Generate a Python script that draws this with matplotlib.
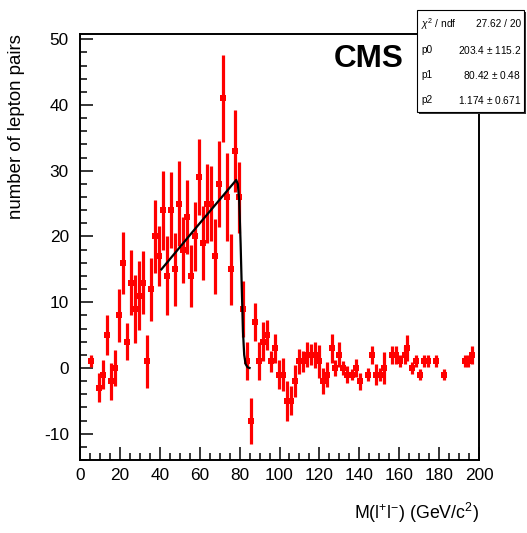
import matplotlib

matplotlib.use("Agg")
import matplotlib.pyplot as plt
from matplotlib.patches import Rectangle
from matplotlib.ticker import MultipleLocator

plt.rcParams["font.family"] = ["Liberation Sans", "DejaVu Sans"]
plt.rcParams["mathtext.fontset"] = "custom"
plt.rcParams["mathtext.rm"] = "Liberation Sans"
plt.rcParams["mathtext.it"] = "Liberation Sans:italic"
plt.rcParams["axes.unicode_minus"] = False

# dilepton invariant mass spectrum (background subtracted)
mass = [5.5, 9.5, 11.5, 13.5, 15.5, 17.5, 19.5, 21.5, 23.5, 25.5, 27.5, 29.5,
        31.5, 33.5, 35.5, 37.5, 39.5, 41.5, 43.5, 45.5, 47.5, 49.5, 51.5, 53.5,
        55.5, 57.5, 59.5, 61.5, 63.5, 65.5, 67.5, 69.5, 71.5, 73.5, 75.5, 77.5,
        79.5, 81.5, 83.5, 85.5, 87.8, 89.8, 91.7, 93.7, 95.8, 97.8, 99.9, 101.9,
        104.0, 106.0, 107.9, 110.0, 112.0, 114.0, 116.0, 118.0, 120.0, 122.0,
        123.8, 126.1, 128.0, 130.0, 132.0, 134.0, 136.1, 138.1, 140.2, 144.2,
        146.2, 148.3, 150.3, 152.3, 156.4, 158.4, 160.3, 162.7, 164.0, 166.3,
        168.2, 170.3, 172.5, 174.4, 178.5, 182.6, 192.9, 194.7, 196.7]
pairs = [1, -3, -1, 5, -2, 0, 8, 16, 4, 13, 9, 11,
         13, 1, 12, 20, 17, 24, 14, 24, 15, 25, 18, 23,
         14, 20, 29, 19, 25, 25, 17, 28, 41, 26, 15, 33,
         26, 9, 1, -8, 7, 1, 4, 5, 1, 3, -1, -1,
         -5, -5, -2, 1, 1, 2, 2, 2, 1, -2,
         -1, 3, 0, 2, 0, -1, -1, 0, -2, -1,
         2, -1, -1, 0, 2, 2, 1, 2, 3, 0,
         1, -1, 1, 1, 1, -1, 1, 1, 2]
err = [0.9, 2.2, 2.2, 3.0, 2.8, 2.7, 4.0, 4.7, 2.8, 5.0, 5.2, 5.3,
       4.8, 4.0, 4.8, 5.5, 4.6, 6.0, 6.0, 5.8, 5.5, 6.5, 5.0, 5.6,
       4.7, 5.2, 5.8, 5.6, 6.0, 5.7, 5.7, 6.5, 6.6, 6.7, 5.4, 6.3,
       5.4, 4.3, 2.9, 3.5, 2.9, 2.9, 3.0, 2.3, 1.6, 2.2, 2.2, 2.5,
       3.0, 2.2, 2.4, 1.9, 1.6, 1.9, 1.6, 2.0, 2.5, 2.0,
       1.9, 2.2, 1.2, 1.9, 1.1, 1.3, 0.9, 1.4, 1.3, 1.0,
       1.4, 1.6, 1.0, 2.4, 1.4, 1.4, 0.9, 1.4, 2.0, 0.9,
       0.9, 0.9, 0.9, 0.9, 0.9, 0.9, 0.9, 0.9, 1.4]

# fitted edge function
fit_x = [40.8, 60.0, 77.5, 78.3, 79.1, 79.8, 80.5, 81.1, 81.7, 82.3, 83.0, 84.0, 85.0]
fit_y = [15.0, 22.0, 28.3, 28.6, 28.0, 25.5, 19.0, 12.0, 5.5, 2.0, 0.6, 0.1, 0.0]

stat_labels = [r"$\chi^{2}$ / ndf", "p0", "p1", "p2"]
stat_values = ["27.62 / 20", "203.4 $\\pm$ 115.2", "80.42 $\\pm$ 0.48", "1.174 $\\pm$ 0.671"]

W, H = 527, 533
fig = plt.figure(figsize=(W / 100, H / 100), dpi=100)
ax = fig.add_axes([80 / W, 1 - 460 / H, 399 / W, 426 / H])

ax.errorbar(mass, pairs, yerr=err, fmt="s", color="#ff0000", ms=5,
            elinewidth=2.3, capsize=0, mew=0, zorder=2)
ax.plot(fit_x, fit_y, color="black", lw=1.6, zorder=3)

ax.set_xlim(0, 200)
ax.set_ylim(-14, 50.8)
ax.xaxis.set_major_locator(MultipleLocator(20))
ax.xaxis.set_minor_locator(MultipleLocator(5))
ax.yaxis.set_major_locator(MultipleLocator(10))
ax.yaxis.set_minor_locator(MultipleLocator(2))
ax.tick_params(which="both", direction="in", top=False, right=False,
               labelsize=12.4, width=1.1)
ax.tick_params(which="major", length=9.4)
ax.tick_params(which="minor", length=5)
ax.tick_params(axis="x", pad=6)
ax.tick_params(axis="y", pad=8)
for sp in ax.spines.values():
    sp.set_linewidth(1.4)

ax.set_ylabel("number of lepton pairs", fontsize=13.4, loc="top")
ax.yaxis.set_label_coords(-0.137, 1.0)
ax.set_xlabel(r"M(l$^{+}$l$^{-}$) (GeV/c$^{2}$)", fontsize=12.8, loc="right",
              labelpad=13)

ax.text(369 / W, 1 - 59 / H, "CMS", transform=fig.transFigure, ha="center",
        va="center", fontsize=22.7, fontweight="bold")

# ROOT-like stats box with shadow
bx0, bx1, by0, by1 = 417, 524, 10, 112
fig.patches.append(Rectangle((bx0 / W + 2 / W, 1 - (by1 + 2) / H),
                             (bx1 - bx0) / W, (by1 - by0) / H,
                             transform=fig.transFigure, facecolor="#333333",
                             edgecolor="none", zorder=4))
fig.patches.append(Rectangle((bx0 / W, 1 - by1 / H), (bx1 - bx0) / W,
                             (by1 - by0) / H, transform=fig.transFigure,
                             facecolor="white", edgecolor="black", lw=0.8,
                             zorder=5))
rows_y = [24, 50, 75, 100]
for lab, val, ry in zip(stat_labels, stat_values, rows_y):
    fig.text(421 / W, 1 - ry / H, lab, fontsize=7.3, ha="left", va="center",
             zorder=6)
    fig.text(521 / W, 1 - ry / H, val, fontsize=7.3, ha="right", va="center",
             zorder=6)

fig.savefig("out.png", dpi=100)
